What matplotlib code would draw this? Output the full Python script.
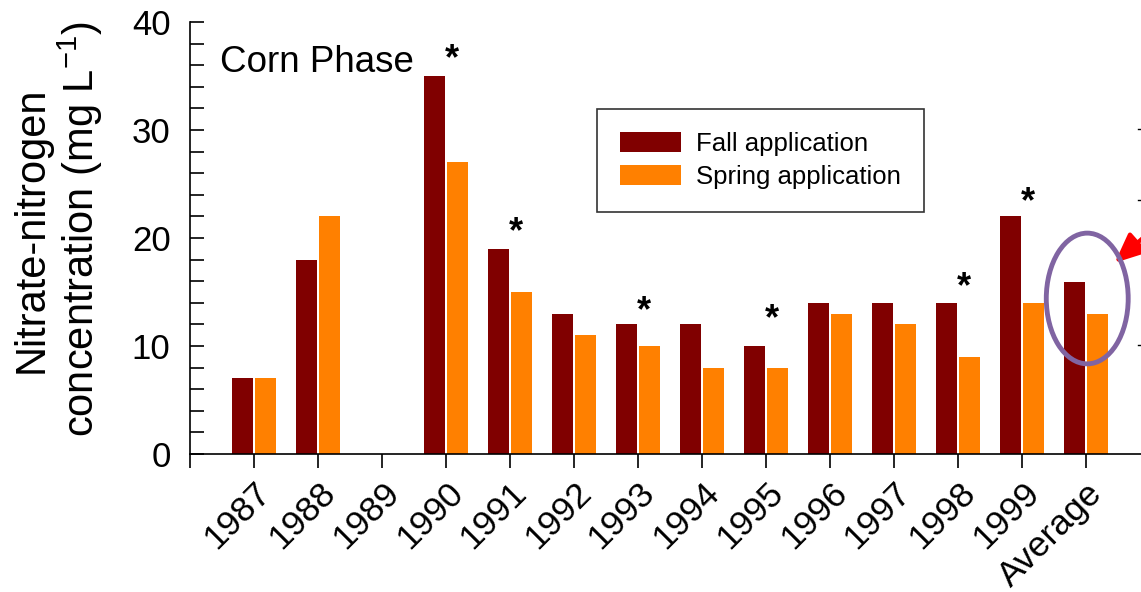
import matplotlib.pyplot as plt
import numpy as np
from matplotlib.patches import Ellipse
from matplotlib.lines import Line2D

plt.rcParams['font.family'] = ['Liberation Sans', 'DejaVu Sans']

## DATA
years = ["1987", "1988", "1989", "1990", "1991", "1992", "1993", "1994",
         "1995", "1996", "1997", "1998", "1999", "Average"]
fall = [7, 18, 0, 35, 19, 13, 12, 12, 10, 14, 14, 14, 22, 15.9]
spring = [7, 22, 0, 27, 15, 11, 10, 8, 8, 13, 12, 9, 14, 13]
# years with a significant difference, and where the star sits
starred = ["1990", "1991", "1993", "1995", "1998", "1999"]
star_y = [36.5, 20.5, 13.2, 12.4, 15.4, 23.3]

FALL_COLOR = "#800000"
SPRING_COLOR = "#FF8000"

x = np.arange(len(years))
w = 0.33

fig = plt.figure(figsize=(11.41, 5.92), dpi=100)
ax = fig.add_axes([0.1665, 0.233, 0.8335, 0.73])

ax.bar(x - 0.18, fall, w, color=FALL_COLOR, label="Fall application")
ax.bar(x + 0.18, spring, w, color=SPRING_COLOR, label="Spring application")

# significance stars
for yr, sy in zip(starred, star_y):
    i = years.index(yr)
    ax.text(x[i] + 0.1, sy, "*", fontsize=26, fontweight="bold",
            ha="center", va="center")

ax.text(0.0315, 0.905, "Corn Phase", transform=ax.transAxes, fontsize=26.5,
        ha="left", va="center")

# highlight the average
ax.add_patch(Ellipse((13.02, 14.4), 1.28, 12.1, fill=False,
                     edgecolor="#8064A2", linewidth=3.5, zorder=5))
ax.annotate("", xy=(13.45, 17.7), xytext=(14.5, 23.2),
            arrowprops=dict(arrowstyle="-|>,head_length=0.9,head_width=0.4",
                            mutation_scale=20, color="red", lw=3,
                            shrinkA=0, shrinkB=0),
            annotation_clip=False)

# stray marks at the right edge of the original figure
for yp in [129, 200, 345]:
    fig.add_artist(Line2D([1138 / 1141, 1141 / 1141],
                          [1 - yp / 592, 1 - yp / 592], color="black", lw=1))

ax.set_xlim(-1, 13.86)
ax.set_ylim(0, 40)
ax.set_xticks(np.arange(-1, 14))
ax.set_xticklabels([""] + years, rotation=45, ha="right",
                   rotation_mode="anchor", fontsize=25.5)
ax.set_yticks(range(0, 41, 10))
ax.set_yticks(range(0, 41, 2), minor=True)
ax.tick_params(axis="y", which="both", direction="in", length=10, width=1.2,
               labelsize=25, pad=14)
ax.tick_params(axis="x", direction="out", length=10, width=1.2, pad=6)
ax.spines["top"].set_visible(False)
ax.spines["right"].set_visible(False)
ax.spines["left"].set_linewidth(1.2)
ax.spines["bottom"].set_linewidth(1.2)

ax.set_ylabel("Nitrate-nitrogen\nconcentration (mg L$^{\\mathregular{-1}}$)",
              fontsize=30, linespacing=1.1)
ax.yaxis.set_label_coords(-0.089, 0.52)

leg = ax.legend(loc="upper left", bbox_to_anchor=(0.428, 0.7986),
                borderaxespad=0, fontsize=18.5, frameon=True, fancybox=False,
                edgecolor="black", handlelength=2.35, handleheight=0.8,
                handletextpad=0.6, borderpad=0.9, labelspacing=0.35)
leg.get_frame().set_linewidth(1.2)

fig.savefig("out.png", dpi=100)
